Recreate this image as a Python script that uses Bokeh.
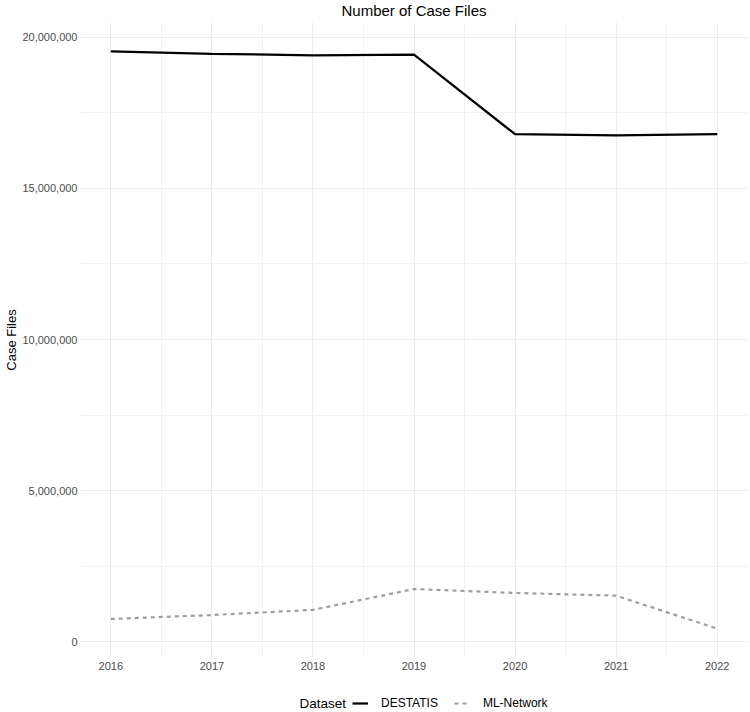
from bokeh.plotting import figure
from bokeh.layouts import column
from bokeh.models import (Legend, LegendItem, NumeralTickFormatter, FixedTicker,
                          Range1d, Label)
from bokeh.embed import file_html
from bokeh.resources import INLINE

# Yearly number of case files per dataset
years = [2016, 2017, 2018, 2019, 2020, 2021, 2022]
destatis = [19530000, 19450000, 19400000, 19420000, 16790000, 16750000, 16790000]
ml_network = [760000, 890000, 1060000, 1750000, 1620000, 1530000, 440000]

series_names = ["DESTATIS", "ML-Network"]
chart_title = "Number of Case Files"
legend_title = "Dataset"
y_ticks = [0, 5000000, 10000000, 15000000, 20000000]
y_minor = [2500000, 7500000, 12500000, 17500000]
x_minor = [2016.5, 2017.5, 2018.5, 2019.5, 2020.5, 2021.5]

FONT = "Liberation Sans"
STYLES = [dict(line_color="black", line_width=2.2),
          dict(line_color="#9E9E9E", line_width=2.2, line_dash="4 4")]
FRAME_LEFT = 80
FRAME_W = 667


def strip(fig):
    """Blank helper row: no axes, grid or outline, frame fills the canvas."""
    fig.outline_line_color = None
    fig.xgrid.visible = False
    fig.ygrid.visible = False
    fig.background_fill_color = "white"
    fig.border_fill_color = "white"
    return fig


# ggplot-style padding: 5% of the data span on each side
ymin = min(ml_network)
ymax = max(destatis)
ypad = (ymax - ymin) * 0.05
xpad = (max(years) - min(years)) * 0.05

# ---- title row ----
head = strip(figure(width=750, height=22, output_backend="svg",
                    toolbar_location=None, x_axis_type=None, y_axis_type=None,
                    x_range=Range1d(0, 1), y_range=Range1d(0, 1),
                    min_border_left=FRAME_LEFT, min_border_right=3,
                    min_border_top=0, min_border_bottom=0))
head.add_layout(Label(x=FRAME_W / 2, y=12, x_units="screen", y_units="screen",
                      text=chart_title, text_font=FONT, text_font_size="15px",
                      text_color="black", text_align="center",
                      text_baseline="middle"))

# ---- main chart ----
p = figure(width=750, height=654, output_backend="svg", toolbar_location=None,
           x_range=Range1d(min(years) - xpad, max(years) + xpad),
           y_range=Range1d(ymin - ypad, ymax + ypad),
           min_border_left=FRAME_LEFT, min_border_right=3,
           min_border_top=0, min_border_bottom=19)

p.background_fill_color = "white"
p.border_fill_color = "white"
p.outline_line_color = None

p.xaxis.ticker = FixedTicker(ticks=years, minor_ticks=x_minor)
p.yaxis.ticker = FixedTicker(ticks=y_ticks, minor_ticks=y_minor)
p.yaxis.formatter = NumeralTickFormatter(format="0,0")
for ax in (p.xaxis, p.yaxis):
    ax.axis_line_color = None
    ax.major_tick_line_color = None
    ax.minor_tick_line_color = None
    ax.major_tick_out = 0
    ax.minor_tick_out = 0
    ax.major_label_text_font = FONT
    ax.major_label_text_font_size = "11px"
    ax.major_label_text_color = "#4D4D4D"
p.xaxis.major_label_standoff = 4
p.yaxis.major_label_standoff = 3
p.yaxis.axis_label = "Case Files"
p.yaxis.axis_label_text_font = FONT
p.yaxis.axis_label_text_font_size = "13px"
p.yaxis.axis_label_text_font_style = "normal"
p.yaxis.axis_label_text_color = "black"
p.yaxis.axis_label_standoff = 0

for g in (p.xgrid, p.ygrid):
    g.grid_line_color = "#EBEBEB"
    g.grid_line_width = 1.1
    g.minor_grid_line_color = "#F2F2F2"
    g.minor_grid_line_width = 1

p.line(years, destatis, **STYLES[0])
p.line(years, ml_network, **STYLES[1])

# ---- legend row ----
leg = strip(figure(width=750, height=36, output_backend="svg",
                   toolbar_location=None, x_axis_type=None, y_axis_type=None,
                   x_range=Range1d(0, 1), y_range=Range1d(0, 1),
                   min_border_left=FRAME_LEFT, min_border_right=3,
                   min_border_top=0, min_border_bottom=0))

# legend keys: same series and styles, kept outside this row's visible range
keys = [leg.line(years, destatis, **STYLES[0]),
        leg.line(years, ml_network, **STYLES[1])]
legend = Legend(items=[LegendItem(label=n, renderers=[r])
                       for n, r in zip(series_names, keys)],
                orientation="horizontal", location=(352 - FRAME_LEFT, 1),
                label_text_font=FONT, label_text_font_size="12px",
                label_text_color="black",
                glyph_width=16, glyph_height=16, label_height=16,
                label_standoff=13, spacing=16, padding=0, margin=0,
                border_line_color=None, background_fill_alpha=0)
leg.add_layout(legend, "center")
leg.add_layout(Label(x=299 - FRAME_LEFT, y=9, x_units="screen", y_units="screen",
                     text=legend_title, text_font=FONT, text_font_size="13.5px",
                     text_color="black", text_baseline="middle"))

layout = column(head, p, leg, spacing=0)
open("out.html", "w").write(file_html(layout, INLINE))
